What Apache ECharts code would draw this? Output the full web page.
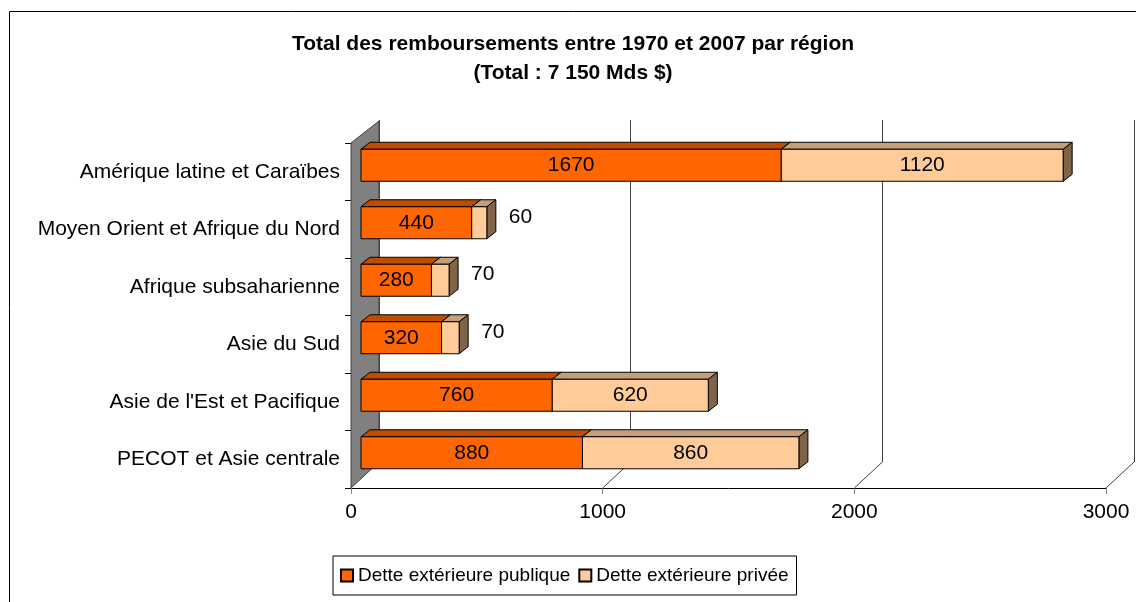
<!DOCTYPE html>
<html>
<head>
<meta charset="utf-8">
<script src="https://cdn.jsdelivr.net/npm/echarts@6/dist/echarts.min.js"></script>
<style>
  html, body { margin: 0; padding: 0; background: #fff; }
  #chart { width: 1136px; height: 602px; }
</style>
</head>
<body>
<div id="chart"></div>
<script>
// Remboursements 1970-2007 par région (Mds $)
var regions = [
	'Amérique latine et Caraïbes',
	'Moyen Orient et Afrique du Nord',
	'Afrique subsaharienne',
	'Asie du Sud',
	"Asie de l'Est et Pacifique",
	'PECOT et Asie centrale'
];
var dettePublique = [1670, 440, 280, 320, 760, 880];
var dettePrivee = [1120, 60, 70, 70, 620, 860];
var xTicks = [0, 1000, 2000, 3000];

var FONT = '"Liberation Sans", Arial, sans-serif';
// profondeur du plan (avant -> fond) et des barres
var DX = 28, DY = 26;
var BDX = 9, BDY = 7;
var BAR_SHIFT_X = 10, BAR_SHIFT_Y = -6.5, BAR_H = 32;

var colors = {
	publique: { front: '#ff6600', top: '#c04c00', side: '#8a3a00' },
	privee: { front: '#ffcc99', top: '#c49f7a', side: '#806448' }
};

// données empilées [index catégorie, début, fin, valeur]
var dataPublique = dettePublique.map(function (v, i) {
	return [i, 0, v, v];
});
var dataPrivee = dettePrivee.map(function (v, i) {
	return [i, dettePublique[i], dettePublique[i] + v, v];
});

function barRenderer(c, isPrivee) {
	return function (params, api) {
		var cat = api.value(0);
		var a = api.coord([api.value(1), cat]);
		var b = api.coord([api.value(2), cat]);
		var x0 = a[0] + BAR_SHIFT_X, x1 = b[0] + BAR_SHIFT_X;
		var yc = a[1] + BAR_SHIFT_Y;
		var yT = yc - BAR_H / 2, yB = yc + BAR_H / 2;
		var line = { stroke: '#000', lineWidth: 1 };
		var children = [
			{
				type: 'polygon',
				shape: { points: [[x0, yT], [x1, yT], [x1 + BDX, yT - BDY], [x0 + BDX, yT - BDY]] },
				style: Object.assign({ fill: c.top }, line)
			},
			{
				type: 'polygon',
				shape: { points: [[x1, yT], [x1 + BDX, yT - BDY], [x1 + BDX, yB - BDY], [x1, yB]] },
				style: Object.assign({ fill: c.side }, line)
			},
			{
				type: 'rect',
				shape: { x: x0, y: yT, width: x1 - x0, height: BAR_H },
				style: Object.assign({ fill: c.front }, line)
			}
		];
		var val = api.value(3);
		var outside = isPrivee && val < 200;
		children.push({
			type: 'text',
			z2: 10,
			style: {
				text: String(val),
				x: outside ? x1 + BDX + 13 : (x0 + x1) / 2,
				y: outside ? yc - 6 : yc,
				align: outside ? 'left' : 'center',
				verticalAlign: 'middle',
				font: '21px ' + FONT,
				fill: '#000'
			}
		});
		return { type: 'group', children: children };
	};
}

var myChart = echarts.init(document.getElementById('chart'));

var option = {
	animation: false,
	backgroundColor: '#fff',
	textStyle: { fontFamily: FONT },
	title: {
		text: 'Total des remboursements entre 1970 et 2007 par région\n(Total : 7 150 Mds $)',
		left: 573,
		textAlign: 'center',
		top: 30,
		padding: 0,
		textStyle: {
			fontFamily: FONT,
			fontSize: 21,
			fontWeight: 'bold',
			lineHeight: 29,
			color: '#000'
		}
	},
	graphic: [{
		type: 'rect',
		shape: { x: 9.5, y: 11.5, width: 1200, height: 700 },
		style: { fill: 'none', stroke: '#000', lineWidth: 1 },
		silent: true,
		z: -10
	}],
	legend: {
		data: ['Dette extérieure publique', 'Dette extérieure privée'],
		left: 333,
		top: 556,
		orient: 'horizontal',
		itemWidth: 12,
		itemHeight: 12,
		itemGap: 8,
		padding: [10, 8, 10, 7],
		borderColor: '#000',
		borderWidth: 1,
		borderRadius: 0,
		icon: 'rect',
		textStyle: { fontFamily: FONT, fontSize: 19, color: '#000' }
	},
	grid: [
		// plan avant
		{ left: 351, top: 143, width: 755, height: 345, containLabel: false },
		// plan du fond (quadrillage)
		{ left: 351 + DX, top: 120, width: 755, height: 462 - 120, containLabel: false }
	],
	xAxis: [{
		type: 'value',
		gridIndex: 0,
		min: 0,
		max: 3000,
		interval: 1000,
		axisLine: { show: true, lineStyle: { color: '#000', width: 1 } },
		axisTick: { show: true, length: 6, lineStyle: { color: '#808080' } },
		axisLabel: {
			fontFamily: FONT,
			fontSize: 21,
			color: '#000',
			margin: 14,
			formatter: function (v) { return String(v); }
		},
		splitLine: { show: false }
	}, {
		type: 'value',
		gridIndex: 1,
		min: 0,
		max: 3000,
		interval: 1000,
		axisLine: { show: false },
		axisTick: { show: false },
		axisLabel: { show: false },
		splitLine: { show: true, lineStyle: { color: '#404040', width: 1 } }
	}],
	yAxis: [{
		type: 'category',
		gridIndex: 0,
		data: regions,
		inverse: true,
		axisLine: { show: true, lineStyle: { color: '#000' } },
		axisTick: { show: true, length: 6, lineStyle: { color: '#000' } },
		axisLabel: { fontFamily: FONT, fontSize: 21, color: '#000', margin: 11 }
	}, {
		type: 'category',
		gridIndex: 1,
		data: regions,
		inverse: true,
		show: false
	}],
	series: [
		{
			// paroi gauche + diagonales du plancher
			name: 'plancher',
			type: 'custom',
			xAxisIndex: 0,
			yAxisIndex: 0,
			silent: true,
			clip: false,
			z: 1,
			data: xTicks.map(function (v) { return [v, 0]; }),
			encode: { x: 0, y: 1 },
			renderItem: function (params, api) {
				var cs = params.coordSys;
				var bottom = cs.y + cs.height;
				var x = api.coord([api.value(0), 0])[0];
				if (api.value(0) === 0) {
					return {
						type: 'polygon',
						shape: { points: [[x, cs.y], [x + DX, 121], [x + DX, bottom - DY], [x, bottom]] },
						style: { fill: '#808080', stroke: '#404040', lineWidth: 1 }
					};
				}
				return {
					type: 'line',
					shape: { x1: x, y1: bottom, x2: x + DX, y2: bottom - DY },
					style: { stroke: '#404040', lineWidth: 1 }
				};
			}
		},
		{
			name: 'Dette extérieure publique',
			type: 'custom',
			xAxisIndex: 0,
			yAxisIndex: 0,
			clip: false,
			z: 3,
			itemStyle: { color: colors.publique.front, borderColor: '#000', borderWidth: 1 },
			data: dataPublique,
			encode: { x: [1, 2], y: 0 },
			renderItem: barRenderer(colors.publique, false)
		},
		{
			name: 'Dette extérieure privée',
			type: 'custom',
			xAxisIndex: 0,
			yAxisIndex: 0,
			clip: false,
			z: 4,
			itemStyle: { color: colors.privee.front, borderColor: '#000', borderWidth: 1 },
			data: dataPrivee,
			encode: { x: [1, 2], y: 0 },
			renderItem: barRenderer(colors.privee, true)
		}
	]
};

myChart.setOption(option);
</script>
</body>
</html>
